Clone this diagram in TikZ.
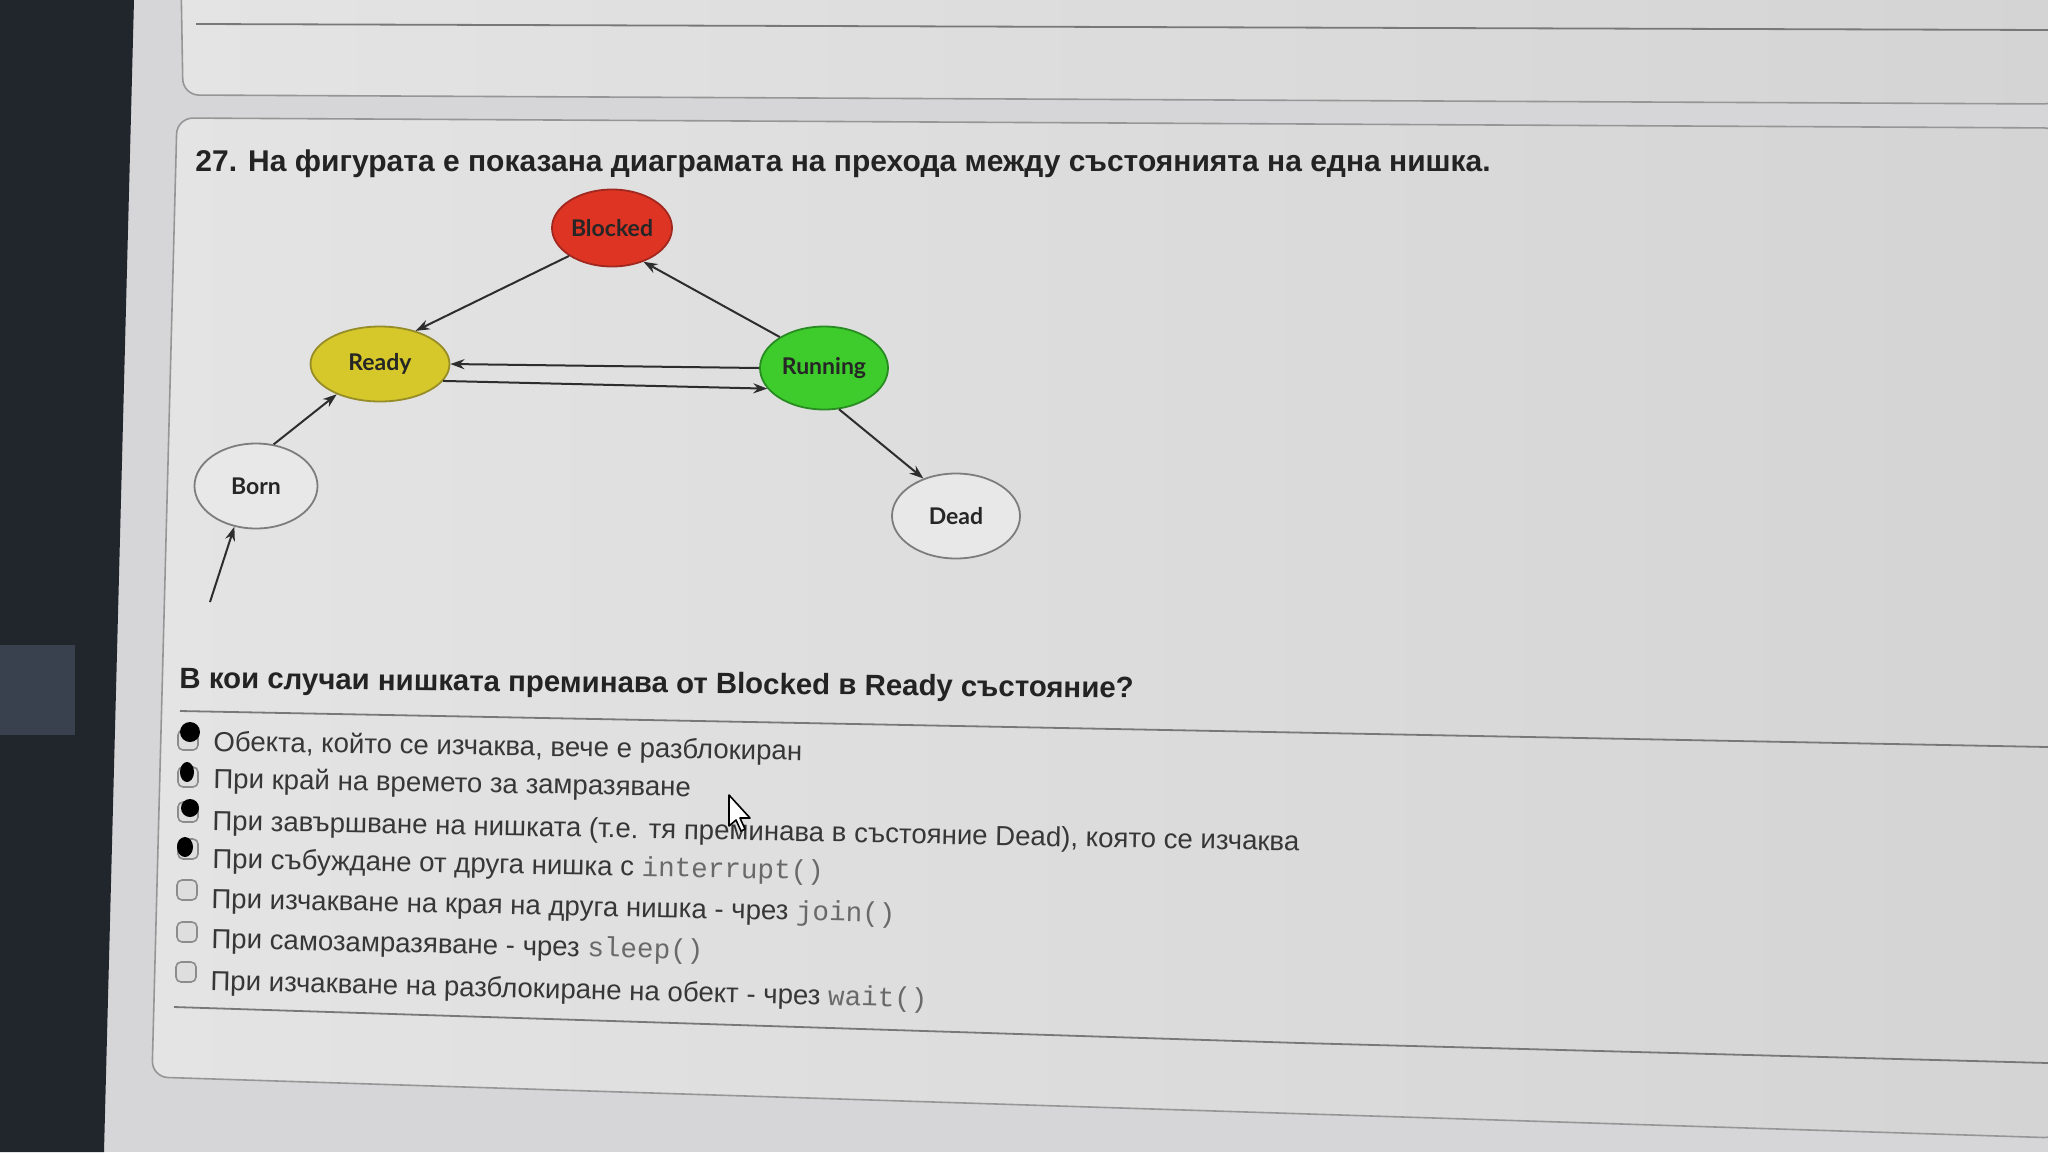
\documentclass[tikz,border=0pt]{standalone}
\usepackage{fontspec}
\setmainfont{Liberation Sans}
\setmonofont{Liberation Mono}
\newfontfamily\diagfont{Lato}
\usetikzlibrary{shapes.geometric,arrows.meta}
\definecolor{pagebg}{RGB}{214,214,216}
\definecolor{boxleft}{RGB}{228,228,228}
\definecolor{boxright}{RGB}{212,212,213}
\definecolor{strip}{RGB}{33,37,44}
\definecolor{strippatch}{RGB}{58,65,78}
\definecolor{boxline}{RGB}{150,150,150}
\definecolor{sepline}{RGB}{120,120,120}
\definecolor{titlecol}{RGB}{35,35,35}
\definecolor{optcol}{RGB}{55,55,55}
\definecolor{codegray}{RGB}{105,105,105}
\definecolor{arrowcol}{RGB}{45,45,45}
\definecolor{blockedfill}{RGB}{222,52,36}
\definecolor{blockedline}{RGB}{160,40,30}
\definecolor{readyfill}{RGB}{214,200,42}
\definecolor{readyline}{RGB}{150,140,40}
\definecolor{runfill}{RGB}{62,204,44}
\definecolor{runline}{RGB}{40,140,35}
\definecolor{plainfill}{RGB}{232,232,232}
\definecolor{plainline}{RGB}{125,125,125}
\definecolor{cbfill}{RGB}{222,222,222}
\definecolor{cbline}{RGB}{140,140,140}
\newcommand\mycode[1]{{\ttfamily\color{codegray}#1}}
\tikzset{
  state/.style={ellipse, line width=0.9pt, inner sep=0pt,
    font=\diagfont\bfseries\fontsize{11.5pt}{13pt}\selectfont, text=black!85},
  trans/.style={draw=arrowcol, line width=1pt, -{Stealth[length=7pt,width=5pt]}},
  opttext/.style={anchor=base west, inner sep=0pt, text=optcol,
    font=\fontsize{13.8pt}{15pt}\selectfont},
  cbox/.style={draw=cbline, fill=cbfill, line width=0.8pt, rounded corners=2.5pt,
    minimum width=10pt, minimum height=10pt, inner sep=0pt},
  blob/.style={fill=black, draw=none}
}
\begin{document}
\begin{tikzpicture}[x=0.5pt,y=-0.5pt]
\useasboundingbox (0,0) rectangle (2048,1152);
% page background
\fill[pagebg] (0,0) rectangle (2048,1152);
% first box (cut at top)
\shade[left color=boxleft, right color=boxright, draw=boxline, line width=0.8pt, rounded corners=8pt]
  (181,-20) -- (183,95) -- (2060,104) -- (2060,-20) -- cycle;
\draw[sepline, line width=0.9pt] (196,24) -- (2048,30);
% second box
\shade[left color=boxleft, right color=boxright, draw=boxline, line width=0.8pt, rounded corners=8pt]
  (177,118) -- (2060,128) -- (2060,1138) -- (152,1077) -- cycle;
% dark strip at left
\fill[strip] (0,0) -- (134,0) -- (104,1152) -- (0,1152) -- cycle;
\fill[strippatch] (0,645) rectangle (75,735);

% title
\node[anchor=base west, inner sep=0pt, text=titlecol,
  font=\bfseries\fontsize{15pt}{17pt}\selectfont] (title) at (195,171)
  {27. На фигурата е показана диаграмата на прехода между състоянията на една нишка.};

% diagram
\node[state, fill=blockedfill, draw=blockedline, minimum width=60pt, minimum height=38.5pt] (blocked) at (612,228) {Blocked};
\node[state, fill=readyfill, draw=readyline, minimum width=69.5pt, minimum height=37.5pt] (ready) at (380,364) {Ready};
\node[state, fill=runfill, draw=runline, minimum width=64pt, minimum height=41.5pt] (running) at (824,368) {Running};
\node[state, fill=plainfill, draw=plainline, minimum width=61.5pt, minimum height=42.5pt] (born) at (256,486) {Born};
\node[state, fill=plainfill, draw=plainline, minimum width=64pt, minimum height=42.5pt] (dead) at (956,516) {Dead};
\coordinate (start) at (210,602);

\draw[trans] (blocked.213) -- (ready.43);
\draw[trans] (running.145) -- (blocked.-47);
\draw[trans] (running.west) -- (ready.east);
\draw[trans] (ready.-15) -- (running.200);
\draw[trans] (born.67) -- (ready.215);
\draw[trans] (running.-70) -- (dead.131);
\draw[trans] (start) -- (born.-118);

% question
\node[anchor=base west, inner sep=0pt, text=titlecol, rotate=-0.6,
  font=\bfseries\fontsize{14.7pt}{17pt}\selectfont] (question) at (179,688)
  {В кои случаи нишката преминава от Blocked в Ready състояние?};
\draw[sepline, line width=0.9pt] (180,711) -- (2048,747);

% options
\node[cbox] (c1) at (188,740) {};
\node[cbox] (c2) at (188,777) {};
\node[cbox] (c3) at (188,812) {};
\node[cbox] (c4) at (188,849) {};
\node[cbox] (c5) at (187,890) {};
\node[cbox] (c6) at (187,932) {};
\node[cbox] (c7) at (186,972) {};
\fill[blob] (190,732) ellipse (10 and 10);
\fill[blob] (187,772) ellipse (7 and 10);
\fill[blob] (190,808) ellipse (9 and 9);
\fill[blob] (185,847) ellipse (8 and 10);

\node[opttext, rotate=-0.9] (o1) at (213,751) {Обекта, който се изчаква, вече е разблокиран};
\node[opttext, rotate=-1.0] (o2) at (213,788) {При край на времето за замразяване};
\node[opttext, rotate=-1.1] (o3) at (212,830) {При завършване на нишката (т.е. тя преминава в състояние Dead), която се изчаква};
\node[opttext, rotate=-1.1] (o4) at (212,868) {При събуждане от друга нишка с \mycode{interrupt()}};
\node[opttext, rotate=-1.2] (o5) at (211,908) {При изчакване на края на друга нишка - чрез \mycode{join()}};
\node[opttext, rotate=-1.3] (o6) at (211,948) {При самозамразяване - чрез \mycode{sleep()}};
\node[opttext, rotate=-1.4] (o7) at (210,990) {При изчакване на разблокиране на обект - чрез \mycode{wait()}};
\draw[sepline, line width=0.9pt] (174,1007) -- (1300,1043) -- (2048,1063);

% mouse cursor
\draw[fill=white, draw=black, line width=0.8pt, line join=round]
  (729,795) -- (729,826) -- (736,820) -- (741,831) -- (745,829) -- (740,818) -- (750,818) -- cycle;
\end{tikzpicture}
\end{document}
